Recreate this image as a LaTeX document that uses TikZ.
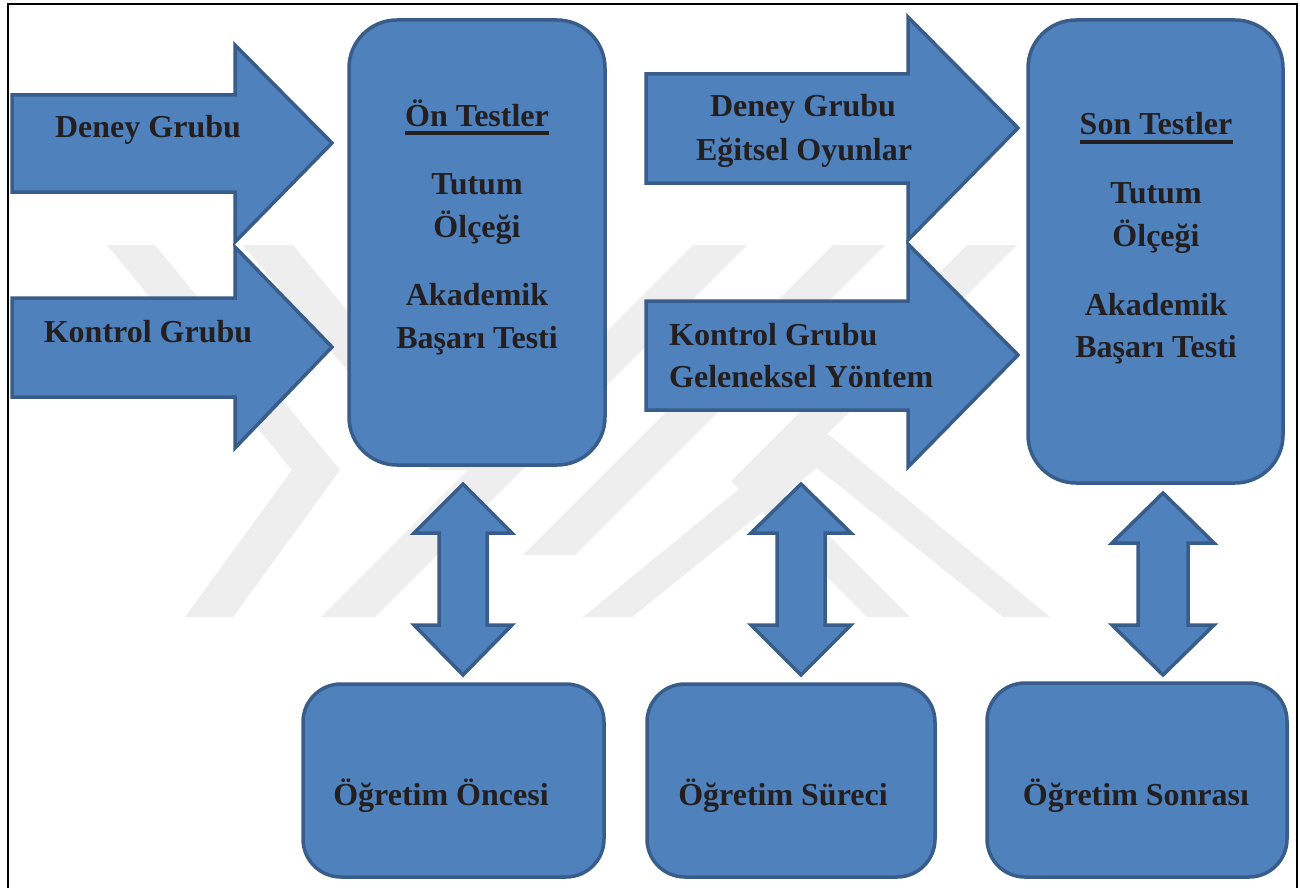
\documentclass[tikz,border=0pt]{standalone}
\usepackage{fontspec}
\setmainfont{Liberation Serif}
\definecolor{blockblue}{HTML}{4F81BD}
\definecolor{edgeblue}{HTML}{385D8A}
\definecolor{inkdark}{HTML}{231F20}
\definecolor{markgray}{HTML}{EEEEEE}

\begin{document}
\begin{tikzpicture}[x=1pt,y=-1pt,
  blockshape/.style={fill=blockblue,draw=edgeblue,line width=3.5pt,line join=miter},
  panel/.style={blockshape,inner sep=0pt},
  lbl/.style={text=inkdark,font=\bfseries\fontsize{32}{38}\selectfont,inner sep=0pt,anchor=base},
  wmark/.style={fill=markgray,draw=none}]
\useasboundingbox (0,0) rectangle (1300,888);
\fill [white] (0,0) rectangle (1300,888);
\fill [wmark] (107,245) -- (155,245) -- (340,470) -- (233,617) -- (185,617) -- (292,470) -- cycle;
\fill [wmark] (243,245) -- (293,245) -- (478,470) -- (430,470) -- cycle;
\fill [wmark] (693,245) -- (747,245) -- (375,617) -- (321,617) -- cycle;
\fill [wmark] (833,245) -- (885,245) -- (575,555) -- (523,555) -- cycle;
\fill [wmark] (583,617) -- (817,425) -- (1050,617) -- (1003,617) -- (817,468) -- (632,617) -- cycle;
\fill [wmark] (967,245) -- (731,481) -- (867,617) -- (910,617) -- (777,484) -- (1017,245) -- cycle;
\draw [black,line width=2pt] (8,900) -- (8,4) -- (1297,4) -- (1297,900);
\draw [blockshape] (12,95) -- (235,95) -- (235,45) -- (332,143) -- (235,242) -- (235,192) -- (12,192) -- cycle;
\draw [blockshape] (12,298) -- (235,298) -- (235,247) -- (332,347) -- (235,448) -- (235,397) -- (12,397) -- cycle;
\draw [blockshape] (646,74) -- (908,74) -- (908,17) -- (1018,128) -- (908,240) -- (908,183) -- (646,183) -- cycle;
\draw [blockshape] (646,301) -- (908,301) -- (908,244) -- (1018,355) -- (908,467) -- (908,410) -- (646,410) -- cycle;
\draw [blockshape] (463,484) -- (512,533) -- (487,533) -- (487,625) -- (512,625) -- (463,675) -- (414,625) -- (439,625) -- (439,533) -- (414,533) -- cycle;
\draw [blockshape] (801,484) -- (851,533) -- (825,533) -- (825,625) -- (851,625) -- (801,675) -- (751,625) -- (777,625) -- (777,533) -- (751,533) -- cycle;
\draw [blockshape] (1163,493) -- (1214,543) -- (1188,543) -- (1188,625) -- (1214,625) -- (1163,675) -- (1112,625) -- (1138,625) -- (1138,543) -- (1112,543) -- cycle;
\node [panel,rounded corners=48pt,minimum width=256pt,minimum height=445pt] (preBox) at (477,242.5) {};
\node [panel,rounded corners=48pt,minimum width=255pt,minimum height=463pt] (postBox) at (1155.5,251.5) {};
\node [panel,rounded corners=38pt,minimum width=301pt,minimum height=193pt] (beforeBox) at (453.5,780.5) {};
\node [panel,rounded corners=38pt,minimum width=288pt,minimum height=193pt] (duringBox) at (791,780.5) {};
\node [panel,rounded corners=38pt,minimum width=300pt,minimum height=194pt] (afterBox) at (1137,780) {};
\node [lbl] (deneyL) at (148,137) {Deney Grubu};
\node [lbl] (kontrolL) at (148,342) {Kontrol Grubu};
\node [lbl] (preHead) at (477,126) {Ön Testler};
\draw [inkdark,line width=3.5pt] ([yshift=-7pt]preHead.base west) -- ([yshift=-7pt]preHead.base east);
\node [lbl] (preT) at (477,194) {Tutum};
\node [lbl] (preO) at (477,237) {Ölçeği};
\node [lbl] (preA) at (477,305) {Akademik};
\node [lbl] (preB) at (477,348) {Başarı Testi};
\node [lbl] (deneyR) at (803,117) {Deney Grubu};
\node [lbl] (oyunR) at (804,160) {Eğitsel Oyunlar};
\node [lbl,anchor=base west] (kontrolR) at (669,345) {Kontrol Grubu};
\node [lbl,anchor=base west] (yontemR) at (669,387) {Geleneksel Yöntem};
\node [lbl] (postHead) at (1156,135) {Son Testler};
\draw [inkdark,line width=3.5pt] ([yshift=-7pt]postHead.base west) -- ([yshift=-7pt]postHead.base east);
\node [lbl] (postT) at (1156,203) {Tutum};
\node [lbl] (postO) at (1156,246) {Ölçeği};
\node [lbl] (postA) at (1156,315) {Akademik};
\node [lbl] (postB) at (1156,357) {Başarı Testi};
\node [lbl] (beforeL) at (441,805) {Öğretim Öncesi};
\node [lbl] (duringL) at (783,805) {Öğretim Süreci};
\node [lbl] (afterL) at (1136,805) {Öğretim Sonrası};
\end{tikzpicture}
\end{document}
